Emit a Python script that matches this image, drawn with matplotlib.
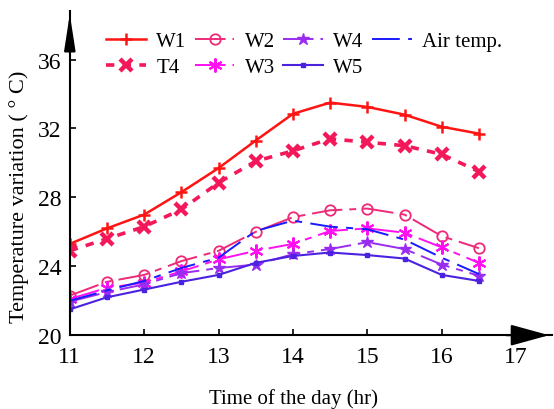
import matplotlib
matplotlib.use("Agg")
import matplotlib.pyplot as plt

plt.rcParams['font.family'] = ['Liberation Serif', 'DejaVu Serif']
plt.rcParams['lines.scale_dashes'] = False

hours = [11, 11.5, 12, 12.5, 13, 13.5, 14, 14.5, 15, 15.5, 16, 16.5]
w1 = [25.3, 26.2, 27.0, 28.3, 29.7, 31.3, 32.85, 33.5, 33.25, 32.8, 32.1, 31.7]
t4 = [24.9, 25.6, 26.3, 27.3, 28.85, 30.1, 30.7, 31.4, 31.2, 31.0, 30.5, 29.5]
w2 = [22.3, 23.1, 23.5, 24.3, 24.9, 26.0, 26.85, 27.25, 27.35, 27.0, 25.75, 25.05]
w3 = [22.1, 22.75, 23.05, 23.7, 24.4, 24.9, 25.3, 26.05, 26.2, 25.95, 25.1, 24.2]
w4 = [21.95, 22.5, 22.95, 23.6, 23.9, 24.1, 24.7, 25.0, 25.4, 25.0, 24.1, 23.45]
w5 = [21.5, 22.2, 22.65, 23.1, 23.5, 24.2, 24.6, 24.8, 24.65, 24.45, 23.5, 23.15]
air = [22.0, 22.6, 23.15, 23.9, 24.5, 26.05, 26.65, 26.3, 26.15, 25.55, 24.5, 23.55]

xticks = [11, 12, 13, 14, 15, 16, 17]
yticks = [20, 24, 28, 32, 36]

fig = plt.figure(figsize=(5.54, 4.10), dpi=100)
ax = fig.add_axes([0.126, 0.180, 0.87, 0.79])

dash_long = (0, (22, 5, 5, 5))
asterisk = (6, 2, 0)

ax.plot(hours, w1, color='#ff1414', lw=1.8, marker='+', ms=9, mew=1.8, label='W1')
ax.plot(hours, t4, color='#f2185a', lw=2.6, ls=(0, (6, 6)), marker='x', ms=9, mew=3.2, label='T4')
ax.plot(hours, w2, color='#ee2a78', lw=1.4, ls=dash_long, marker='o', ms=7.5, mfc='none', mew=1.3, label='W2')
ax.plot(hours, w3, color='#ff10f0', lw=1.4, ls=dash_long, marker=asterisk, ms=10, mew=1.5, label='W3')
ax.plot(hours, w4, color='#9a2cf0', lw=1.4, ls=dash_long, marker='*', ms=9, label='W4')
ax.plot(hours, w5, color='#4a22e0', lw=1.5, marker='s', ms=3.5, label='W5')
ax.plot(hours, air, color='#1a1aff', lw=1.4, ls=(0, (20, 6, 5, 6)), label='Air temp.')

ax.set_xlim(11, 17.48)
ax.set_ylim(20, 38.8)
ax.set_xticks(xticks)
ax.set_yticks(yticks)
ax.tick_params(direction='in', length=4, width=1.2, labelsize=17)
ax.tick_params(axis='x', pad=8)
ax.tick_params(axis='y', pad=6)

for s in ['top', 'right']:
    ax.spines[s].set_visible(False)
for s in ['left', 'bottom']:
    ax.spines[s].set_linewidth(1.5)

ax.annotate('', xy=(0, 1), xytext=(0, 0.9), xycoords='axes fraction',
            arrowprops=dict(arrowstyle='-|>,head_length=1.1,head_width=0.17',
                            color='k', lw=1.5, mutation_scale=20), annotation_clip=False)
ax.annotate('', xy=(1, 0), xytext=(0.9, 0), xycoords='axes fraction',
            arrowprops=dict(arrowstyle='-|>,head_length=1.2,head_width=0.33',
                            color='k', lw=1.5, mutation_scale=20), annotation_clip=False)

ax.set_xlabel('Time of the day (hr)', fontsize=15)
ax.xaxis.set_label_coords(0.465, -0.163)
ax.set_ylabel('Temperature variation ( ° C)', fontsize=16)
ax.yaxis.set_label_coords(-0.085, 0.43)

ax.legend(ncol=4, loc='upper left', bbox_to_anchor=(0.05, 0.975), frameon=False,
          fontsize=15, handlelength=1.9, columnspacing=0.4, handletextpad=0.5,
          labelspacing=0.3, borderaxespad=0.2)

fig.savefig('out.png', dpi=100)
